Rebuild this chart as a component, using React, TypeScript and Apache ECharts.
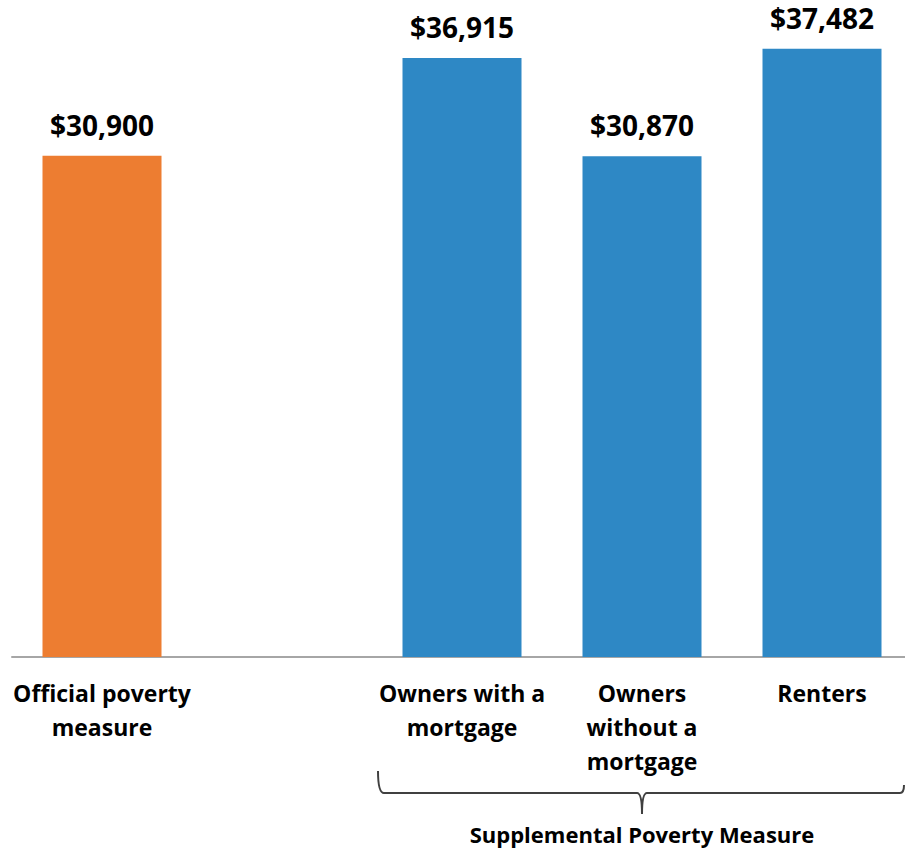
import React, { useEffect, useRef } from "react";
import * as echarts from "echarts";

const categories = ["Official poverty\nmeasure", "", "Owners with a\nmortgage", "Owners\nwithout a\nmortgage", "Renters"];
const values: (number | null)[] = [30900, null, 36915, 30870, 37482];
const barColors = ["#ED7D31", "#ED7D31", "#2E88C5", "#2E88C5", "#2E88C5"];
const groupLabel = "Supplemental Poverty Measure";
const FONT = "'Open Sans', Lato, sans-serif";

export default function App() {
  const ref = useRef<HTMLDivElement>(null);
  useEffect(() => {
    document.body.style.margin = "0";
    const chart = echarts.init(ref.current!, null, { renderer: "svg" });
    const option: any = {
      animation: false,
      grid: { left: 12, top: 8, right: -7, bottom: 194, containLabel: false, outerBoundsMode: "none" },
      xAxis: {
        type: "category",
        data: categories,
        axisTick: { show: false },
        axisLine: { lineStyle: { color: "#A6A6A6", width: 2 } },
        axisLabel: {
          interval: 0,
          margin: 19,
          fontFamily: FONT,
          fontWeight: "bold",
          fontSize: 23,
          lineHeight: 34,
          color: "#000",
        },
      },
      yAxis: { type: "value", min: 0, max: 40000, show: false, splitLine: { show: false } },
      series: [
        {
          type: "bar",
          barWidth: 119,
          data: values.map((v, i) => ({ value: v, itemStyle: { color: barColors[i] } })),
          label: {
            show: true,
            position: "top",
            distance: 17,
            fontFamily: FONT,
            fontWeight: "bold",
            fontSize: 28,
            color: "#000",
            formatter: (p: any) => "$" + Number(p.value).toLocaleString("en-US"),
          },
        },
      ],
    };
    chart.setOption(option);
    const xl = (chart.convertToPixel({ xAxisIndex: 0 }, 2) as number) - 84;
    const xc = chart.convertToPixel({ xAxisIndex: 0 }, 3) as number;
    const xr = (chart.convertToPixel({ xAxisIndex: 0 }, 4) as number) + 82;
    const yb = 793;
    const lineStyle = { stroke: "#404040", lineWidth: 2, fill: null };
    chart.setOption({
      graphic: [
        { type: "bezierCurve", shape: { x1: xl, y1: 771, x2: xl + 6, y2: yb, cpx1: xl, cpy1: yb }, style: lineStyle },
        { type: "line", shape: { x1: xl + 6, y1: yb, x2: xc - 5, y2: yb }, style: lineStyle },
        { type: "bezierCurve", shape: { x1: xc - 5, y1: yb, x2: xc, y2: 814, cpx1: xc, cpy1: yb }, style: lineStyle },
        { type: "bezierCurve", shape: { x1: xc + 5, y1: yb, x2: xc, y2: 814, cpx1: xc, cpy1: yb }, style: lineStyle },
        { type: "line", shape: { x1: xc + 5, y1: yb, x2: xr - 4, y2: yb }, style: lineStyle },
        { type: "bezierCurve", shape: { x1: xr - 4, y1: yb, x2: xr, y2: 785, cpx1: xr, cpy1: yb }, style: lineStyle },
        {
          type: "text",
          x: xc,
          y: 834,
          style: {
            text: groupLabel,
            fontFamily: FONT,
            fontWeight: "bold",
            fontSize: 22,
            fill: "#000",
            align: "center",
            verticalAlign: "middle",
          },
        },
      ],
    });
    return () => chart.dispose();
  }, []);
  return <div ref={ref} style={{ width: 905, height: 851 }} />;
}
